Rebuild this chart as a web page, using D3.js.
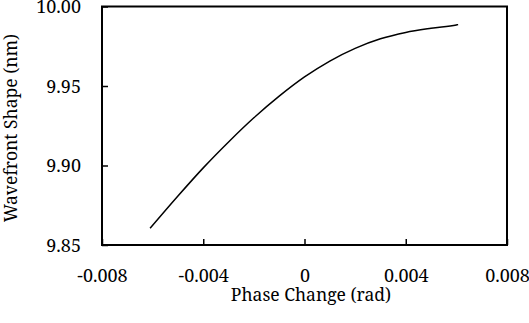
<!DOCTYPE html>
<html><head><meta charset="utf-8">
<script src="https://cdn.jsdelivr.net/npm/d3@7"></script>
<style>body{margin:0;background:#fff}svg{display:block}</style>
</head><body>
<svg id="c" width="529" height="323"></svg>
<script>
const phase = [-0.0061,-0.005,-0.004,-0.003,-0.002,-0.001,0,0.001,0.002,0.003,0.004,0.005,0.006,0.00607];
const shape = [9.8605,9.8808,9.8985,9.9148,9.9300,9.9436,9.9557,9.9657,9.9737,9.9797,9.9837,9.9863,9.9884,9.9886];
const xTicks = [-0.008,-0.004,0,0.004,0.008];
const xTickLabels = ["-0.008","-0.004","0","0.004","0.008"];
const yTicks = [9.85,9.90,9.95,10.00];
const yTickLabels = ["9.85","9.90","9.95","10.00"];

const FONT = "Noto Serif";
const FS = 18;
const svg = d3.select("#c");
const L=102, R=507, T=6.5, B=245;
const x = d3.scaleLinear().domain([-0.008,0.008]).range([L,R]);
const y = d3.scaleLinear().domain([9.85,10.00]).range([B,T]);

svg.append("rect").attr("x",L).attr("y",T).attr("width",R-L).attr("height",B-T)
  .attr("fill","none").attr("stroke","#000").attr("stroke-width",2);

const xa = svg.append("g").attr("transform",`translate(0,${B})`)
  .call(d3.axisBottom(x).tickValues(xTicks).tickFormat((d,i)=>xTickLabels[i]).tickSizeInner(-6).tickSizeOuter(0));
const ya = svg.append("g").attr("transform",`translate(${L},0)`)
  .call(d3.axisLeft(y).tickValues(yTicks).tickFormat((d,i)=>yTickLabels[i]).tickSizeInner(-6).tickSizeOuter(0));
[xa,ya].forEach(g=>{
  g.attr("font-family",FONT).attr("font-size",FS);
  g.select(".domain").remove();
  g.selectAll("line").attr("stroke","#000").attr("stroke-width",1.5);
  g.selectAll("text").attr("font-family",FONT).attr("font-size",FS).attr("fill","#000");
});
xa.selectAll("text").attr("y",37).attr("dy",0);
ya.selectAll("text").attr("x",-21).attr("dy","0.36em");

svg.append("path").datum(phase.map((p,i)=>[p,shape[i]]))
  .attr("fill","none").attr("stroke","#000").attr("stroke-width",1.5)
  .attr("d",d3.line().x(d=>x(d[0])).y(d=>y(d[1])).curve(d3.curveMonotoneX));

svg.append("text").attr("x",311).attr("y",301).attr("text-anchor","middle")
  .attr("font-family",FONT).attr("font-size",17.5).text("Phase Change (rad)");
svg.append("text").attr("transform",`translate(17,128) rotate(-90)`).attr("text-anchor","middle")
  .attr("font-family",FONT).attr("font-size",17.5).text("Wavefront Shape (nm)");
</script>
</body></html>
